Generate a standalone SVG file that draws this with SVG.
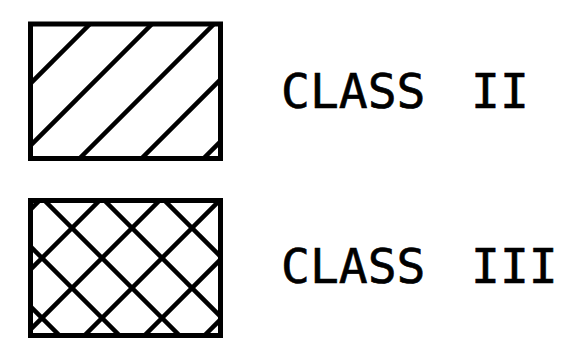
<svg xmlns="http://www.w3.org/2000/svg" width="588" height="358" viewBox="0 0 588 358">
<style>
.frame{fill:none;stroke:#000;stroke-width:5}
.hatch{stroke:#000;stroke-width:4.5;fill:none}
.label{font-family:"DejaVu Sans Mono","Liberation Mono",monospace;font-size:48px;fill:#000;stroke:#000;stroke-width:0.6}
</style>
<defs>
<clipPath id="c2"><rect x="30.5" y="24" width="190" height="134.5"/></clipPath>
<clipPath id="c3"><rect x="30.5" y="200.5" width="190" height="135"/></clipPath>
</defs>
<rect width="588" height="358" fill="#fff"/>
<g id="class2">
<g clip-path="url(#c2)" class="hatch">
<line x1="104" y1="10" x2="-56" y2="170"/>
<line x1="166" y1="10" x2="6" y2="170"/>
<line x1="228" y1="10" x2="68" y2="170"/>
<line x1="290" y1="10" x2="130" y2="170"/>
<line x1="352" y1="10" x2="192" y2="170"/>
</g>
<rect class="frame" x="30.5" y="24" width="190" height="134.5"/>
<text class="label" x="281" y="108">CLASS<tspan x="471">II</tspan></text>
</g>
<g id="class3">
<g clip-path="url(#c3)" class="hatch">
<line x1="50" y1="190" x2="-105" y2="345"/>
<line x1="110" y1="190" x2="-45" y2="345"/>
<line x1="170" y1="190" x2="15" y2="345"/>
<line x1="230" y1="190" x2="75" y2="345"/>
<line x1="290" y1="190" x2="135" y2="345"/>
<line x1="350" y1="190" x2="195" y2="345"/>
<line x1="-86" y1="190" x2="69" y2="345"/>
<line x1="-26" y1="190" x2="129" y2="345"/>
<line x1="34" y1="190" x2="189" y2="345"/>
<line x1="94" y1="190" x2="249" y2="345"/>
<line x1="154" y1="190" x2="309" y2="345"/>
</g>
<rect class="frame" x="30.5" y="200.5" width="190" height="135"/>
<text class="label" x="281" y="283">CLASS<tspan x="471">III</tspan></text>
</g>
</svg>
